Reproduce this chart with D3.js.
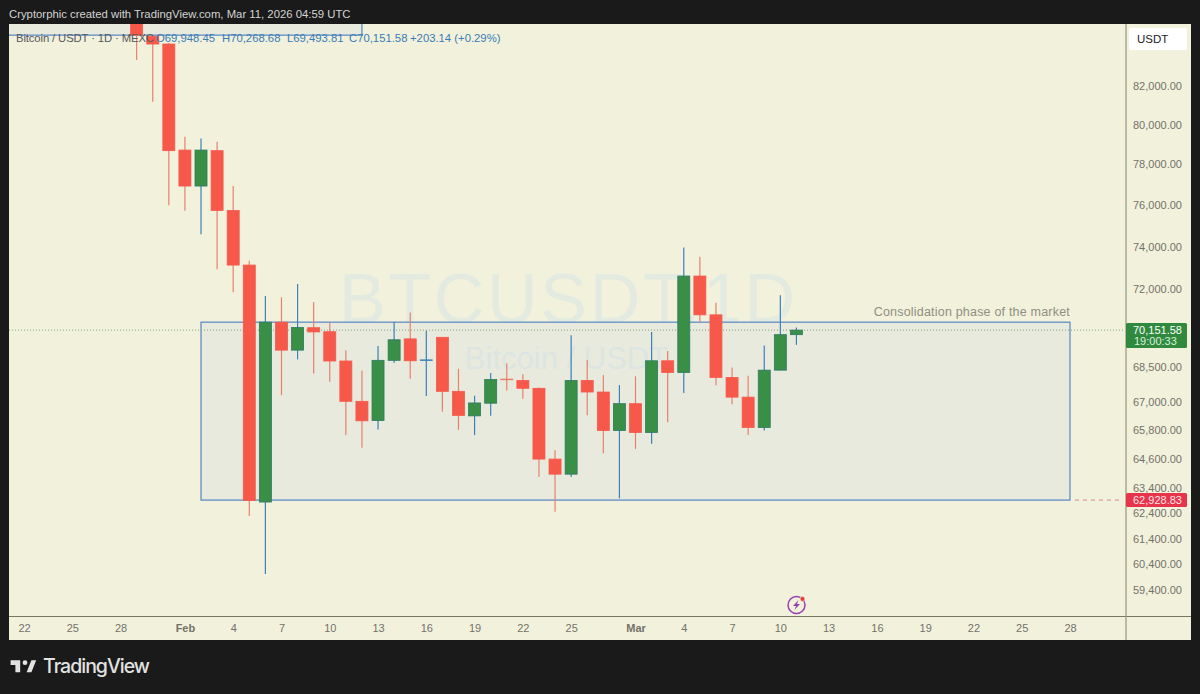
<!DOCTYPE html>
<html>
<head>
<meta charset="utf-8">
<script src="https://d3js.org/d3.v7.min.js"></script>
<style>
  html, body { margin: 0; padding: 0; background: #1a1a1a; overflow: hidden; }
  text { font-family: "Liberation Sans", Arial, sans-serif; }
</style>
</head>
<body>
<div id="chart"></div>

<script>

// one entry per daily candle
var dates = ["2026-01-29","2026-01-30","2026-01-31","2026-02-01","2026-02-02","2026-02-03","2026-02-04","2026-02-05",
  "2026-02-06","2026-02-07","2026-02-08","2026-02-09","2026-02-10","2026-02-11","2026-02-12","2026-02-13",
  "2026-02-14","2026-02-15","2026-02-16","2026-02-17","2026-02-18","2026-02-19","2026-02-20","2026-02-21",
  "2026-02-22","2026-02-23","2026-02-24","2026-02-25","2026-02-26","2026-02-27","2026-02-28","2026-03-01",
  "2026-03-02","2026-03-03","2026-03-04","2026-03-05","2026-03-06","2026-03-07","2026-03-08","2026-03-09",
  "2026-03-10","2026-03-11"]
var opens = [85900,84650,84230,78710,76920,78680,75730,73130,62850,70510,69260,70260,70080,68780,67030,66210,
  68810,69760,68800,69830,67460,66410,66950,67990,67930,67590,64600,63980,67930,67430,65790,66930,
  65710,68790,68280,72620,70840,68060,67210,65920,68380,69948.45]
var highs = [86500,84700,84280,79380,79300,79130,76920,73330,71700,71640,72250,71420,70480,69260,68350,69440,
  70520,70950,70120,69190,68440,67270,68260,68680,68200,67630,64970,69920,68820,68170,67730,68110,
  70070,69220,73960,73520,71390,68500,68140,69470,71730,70268.68]
var lows = [83370,81180,75980,75710,74590,72930,71870,62290,60020,67300,68850,68230,67870,65600,65070,65830,
  68700,68000,67260,66580,65820,65600,66410,67500,67140,63860,62460,63860,66440,64840,63000,65020,
  65240,66140,67390,70520,67720,66900,65600,65790,68380,69493.81]
var closes = [84710,84230,78680,76920,78710,75730,73130,62910,70510,69260,70270,70070,68780,67030,66200,68810,
  69720,68790,68830,67460,66430,66960,67970,67960,67590,64600,63980,67930,67430,65790,66930,65710,
  68790,68280,72620,70840,68060,67210,65920,68380,69948.45,70151.58]

var priceTicks = [82000,80000,78000,76000,74000,72000,68500,67000,65800,64600,63400,62400,61400,60400,59400]
var timeTicks = ["2026-01-22","2026-01-25","2026-01-28","2026-02-01","2026-02-04","2026-02-07","2026-02-10","2026-02-13",
  "2026-02-16","2026-02-19","2026-02-22","2026-02-25","2026-03-01","2026-03-04","2026-03-07","2026-03-10",
  "2026-03-13","2026-03-16","2026-03-19","2026-03-22","2026-03-25","2026-03-28"]

var lastPrice = 70151.58
var lastPriceLabel = "70,151.58"
var countdown = "19:00:33"
var boxLow = 62928.83
var boxLowLabel = "62,928.83"
var boxHigh = 70510
var boxStart = "2026-02-02"
var boxEnd = "2026-03-28"
var upperBoxLow = 84710
var upperBoxEnd = "2026-02-12"
var note = "Consolidation phase of the market"

var parse = d3.utcParse("%Y-%m-%d")
var fmt = d3.format(",.2f")

var pane = { left: 9, right: 1125, top: 24, bottom: 616 }

var x = d3.scaleUtc()
  .domain( [ parse("2026-01-22"), parse("2026-03-28") ] )
  .range( [ 24, 1070 ] )

var y = d3.scaleLog()
  .domain( [ 85316, 58434 ] )
  .range( [ pane.top, pane.bottom ] )

var svg = d3.select("#chart").append("svg")
  .attr( "width", 1200 )
  .attr( "height", 694 )
  .style( "display", "block" )

svg.append("rect").attr("width",1200).attr("height",694).attr("fill","#1a1a1a")

svg.append("text")
  .attr("x",9).attr("y",18)
  .attr("font-size",11.33).attr("fill","#d4d4d4")
  .text("Cryptorphic created with TradingView.com, Mar 11, 2026 04:59 UTC")

// background of pane and both axis strips
svg.append("rect")
  .attr("x",pane.left).attr("y",pane.top)
  .attr("width",1191-pane.left).attr("height",640-pane.top)
  .attr("fill","#f2f1dc")

svg.append("defs").append("clipPath").attr("id","clip")
  .append("rect")
  .attr("x",pane.left).attr("y",pane.top)
  .attr("width",pane.right-pane.left).attr("height",pane.bottom-pane.top)

var plot = svg.append("g").attr("clip-path","url(#clip)")

// watermark
plot.append("text")
  .attr("x",567).attr("y",323).attr("text-anchor","middle")
  .attr("font-size",70).attr("fill","#e3ebe1")
  .attr("textLength",456)
  .text("BTCUSDT.1D")
plot.append("text")
  .attr("x",566.5).attr("y",369).attr("text-anchor","middle")
  .attr("font-size",31).attr("fill","#e2eae3")
  .text("Bitcoin / USDT")

// rectangles drawn on the chart, see-through so the watermark stays visible
plot.append("rect")
  .attr("x",x(parse(boxStart))).attr("y",y(boxHigh))
  .attr("width",x(parse(boxEnd))-x(parse(boxStart)))
  .attr("height",y(boxLow)-y(boxHigh))
  .attr("fill","#cad9e0").attr("fill-opacity",0.25)
  .attr("stroke","#5585c4").attr("stroke-width",1.2)

plot.append("rect")
  .attr("x",pane.left-5).attr("y",pane.top-5)
  .attr("width",x(parse(upperBoxEnd))-pane.left+5)
  .attr("height",y(upperBoxLow)-pane.top+5)
  .attr("fill","#cad9e0").attr("fill-opacity",0.25)
  .attr("stroke","#5585c4").attr("stroke-width",1.2)

plot.append("text")
  .attr("x",x(parse(boxEnd))).attr("y",y(boxHigh)-6)
  .attr("text-anchor","end").attr("font-size",12.5).attr("fill","#8f8f82")
  .attr("letter-spacing",0.2)
  .text(note)

// last price line
plot.append("line")
  .attr("x1",pane.left).attr("x2",pane.right)
  .attr("y1",y(lastPrice)).attr("y2",y(lastPrice))
  .attr("stroke","#7fa878").attr("stroke-width",1).attr("stroke-dasharray","1,2")

// candles
function isUp(i) { return closes[i] >= opens[i] }
function wickColour(i) { return isUp(i) ? "#3b82b8" : "#e8806e" }
function isDoji(i) { return Math.abs(y(opens[i])-y(closes[i])) < 2 }

var candles = plot.selectAll("g.candle")
  .data( d3.range(dates.length) )
  .enter().append("g")
  .attr("class","candle")

candles.append("line")
  .attr("x1", function(i) { return x(parse(dates[i])) })
  .attr("x2", function(i) { return x(parse(dates[i])) })
  .attr("y1", function(i) { return y(highs[i]) })
  .attr("y2", function(i) { return y(lows[i]) })
  .attr("stroke", wickColour)
  .attr("stroke-width",1.2)

candles.append("rect")
  .attr("x", function(i) { return x(parse(dates[i])) - 6 })
  .attr("width",12)
  .attr("y", function(i) { return y(Math.max(opens[i],closes[i])) })
  .attr("height", function(i) { return Math.max( 0.5, Math.abs(y(opens[i])-y(closes[i])) ) })
  .attr("fill", function(i) { return isDoji(i) ? wickColour(i) : isUp(i) ? "#3a8f47" : "#f6594a" })
  .attr("stroke", function(i) { return isDoji(i) ? wickColour(i) : isUp(i) ? "#2c7a63" : "#f6594a" })
  .attr("stroke-width",0.8)

// red dashed level up to the axis
svg.append("line")
  .attr("x1",x(parse(boxEnd))+5).attr("x2",pane.right-3)
  .attr("y1",y(boxLow)).attr("y2",y(boxLow))
  .attr("stroke","#e08a80").attr("stroke-width",1).attr("stroke-dasharray","4,4")

// legend line
var legend = svg.append("text").attr("y",42).attr("font-size",11.3)
legend.append("tspan").attr("x",16).attr("fill","#55585c").attr("letter-spacing",-0.12)
  .text("Bitcoin / USDT · 1D · MEXC")
legend.append("tspan").attr("x",156).attr("fill","#3a7cb5").text("O69,948.45")
legend.append("tspan").attr("x",222).attr("fill","#3a7cb5").text("H70,268.68")
legend.append("tspan").attr("x",287).attr("fill","#3a7cb5").text("L69,493.81")
legend.append("tspan").attr("x",349).attr("fill","#3a7cb5").text("C70,151.58")
legend.append("tspan").attr("x",410).attr("fill","#3a7cb5").text("+203.14 (+0.29%)")

// price axis
var yAxis = d3.axisRight(y)
  .tickValues(priceTicks)
  .tickFormat(fmt)
  .tickSize(0)
  .tickPadding(8)

var yG = svg.append("g")
  .attr("transform","translate("+pane.right+",0)")
  .call(yAxis)
yG.select(".domain").remove()
yG.selectAll("text").attr("font-size",11).attr("fill","#72726a")
  .attr("font-family","'Liberation Sans', Arial, sans-serif")

// time axis
var xAxis = d3.axisBottom(x)
  .tickValues( timeTicks.map(parse) )
  .tickSize(0)
  .tickPadding(8)
  .tickFormat( function(d) {
    return d.getUTCDate()==1 ? d3.utcFormat("%b")(d) : d3.utcFormat("%-d")(d)
  })

var xG = svg.append("g")
  .attr("transform","translate(0,"+pane.bottom+")")
  .call(xAxis)
xG.select(".domain").remove()
xG.selectAll("text")
  .attr("font-size",11).attr("fill","#72726a")
  .attr("font-family","'Liberation Sans', Arial, sans-serif")
  .attr("font-weight", function(d) { return d.getUTCDate()==1 ? "bold" : "normal" })

// axis borders
svg.append("line")
  .attr("x1",pane.left).attr("x2",1191).attr("y1",pane.bottom+0.5).attr("y2",pane.bottom+0.5)
  .attr("stroke","#77775f").attr("stroke-width",1)
svg.append("line")
  .attr("x1",pane.right+1).attr("x2",pane.right+1).attr("y1",pane.top).attr("y2",640)
  .attr("stroke","#9b9b83").attr("stroke-width",1.3)

// currency button
svg.append("rect")
  .attr("x",1129).attr("y",28).attr("width",58).attr("height",22).attr("rx",2)
  .attr("fill","#ffffff")
svg.append("text")
  .attr("x",1137).attr("y",43).attr("font-size",11.5).attr("fill","#1c1c1c")
  .text("USDT")

// price labels on the axis
svg.append("rect")
  .attr("x",pane.right+1).attr("y",y(lastPrice)-7).attr("width",61).attr("height",25).attr("rx",1.5)
  .attr("fill","#2f8a3e")
svg.append("text")
  .attr("x",1133).attr("y",y(lastPrice)+3.5).attr("font-size",11).attr("fill","#ffffff")
  .text(lastPriceLabel)
svg.append("text")
  .attr("x",1134).attr("y",y(lastPrice)+15).attr("font-size",11).attr("fill","#d9efdc")
  .text(countdown)

svg.append("rect")
  .attr("x",pane.right+1).attr("y",y(boxLow)-7).attr("width",61).attr("height",14).attr("rx",1.5)
  .attr("fill","#e7344c")
svg.append("text")
  .attr("x",1133).attr("y",y(boxLow)+4).attr("font-size",11).attr("fill","#f8e3e3")
  .text(boxLowLabel)

// news icon
var icon = svg.append("g").attr("transform","translate(796.5,605)")
icon.append("circle").attr("r",8.5).attr("fill","none").attr("stroke","#9a3fb0").attr("stroke-width",1.5)
icon.append("path").attr("d","M2,-5 L-3.5,1 L-0.5,1 L-2,5 L3.5,-1 L0.5,-1 Z").attr("fill","#9a3fb0")
icon.append("circle").attr("cx",6).attr("cy",-6).attr("r",2.4).attr("fill","#e23a3a")
  .attr("stroke","#f2f1dc").attr("stroke-width",0.6)

// TradingView logo
svg.append("path")
  .attr("transform","translate(9,655.5) scale(0.8)")
  .attr("d","M14 6H2v6h6v9h6V6zm14 15h-6l6-15h6l-6 15z")
  .attr("fill","#e2e2e2")
svg.append("circle")
  .attr("transform","translate(9,655.5) scale(0.8)")
  .attr("cx",20).attr("cy",9).attr("r",3)
  .attr("fill","#e2e2e2")
svg.append("text")
  .attr("x",43).attr("y",673).attr("font-size",19.5).attr("font-weight",500)
  .attr("fill","#e2e2e2")
  .style("font-family","Inter, sans-serif")
  .attr("textLength",107)
  .text("TradingView")

</script>
</body>
</html>
